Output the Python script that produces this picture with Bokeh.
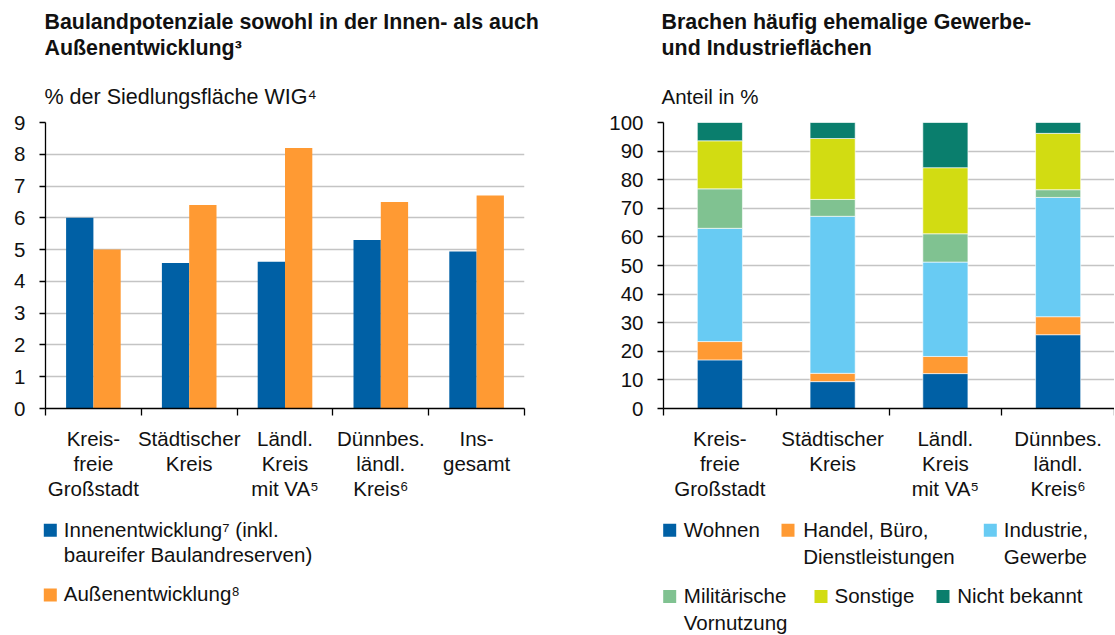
from bokeh.plotting import figure
from bokeh.models import Range1d, FixedTicker, ColumnDataSource
from bokeh.layouts import row, column
from bokeh.embed import file_html
from bokeh.resources import INLINE
from bokeh.core.properties import value

# ---------------- data ----------------
left_categories = ["Kreis-\nfreie\nGroßstadt", "Städtischer\nKreis", "Ländl.\nKreis\nmit VA⁵",
                   "Dünnbes.\nländl.\nKreis⁶", "Ins-\ngesamt"]
innenentwicklung = [6.0, 4.58, 4.62, 5.3, 4.94]
aussenentwicklung = [5.0, 6.4, 8.2, 6.5, 6.7]

right_categories = ["Kreis-\nfreie\nGroßstadt", "Städtischer\nKreis", "Ländl.\nKreis\nmit VA⁵",
                    "Dünnbes.\nländl.\nKreis⁶"]
wohnen = [17.0, 9.4, 12.2, 25.8]
handel = [6.4, 2.9, 6.0, 6.3]
industrie = [39.6, 54.9, 33.0, 41.7]
militaer = [13.8, 5.9, 9.9, 2.7]
sonstige = [16.8, 21.3, 23.1, 19.7]
nicht_bekannt = [6.4, 5.6, 15.8, 3.8]

left_ticks = list(range(0, 10, 1))
right_ticks = list(range(0, 101, 10))

left_title = ["Baulandpotenziale sowohl in der Innen- als auch", "Außenentwicklung³"]
left_subtitle = "% der Siedlungsfläche WIG⁴"
right_title = ["Brachen häufig ehemalige Gewerbe-", "und Industrieflächen"]
right_subtitle = "Anteil in %"
left_legend = [["Innenentwicklung⁷ (inkl.", "baureifer Baulandreserven)"],
               ["Außenentwicklung⁸"]]
right_legend = [["Wohnen"], ["Handel, Büro,", "Dienstleistungen"], ["Industrie,", "Gewerbe"],
                ["Militärische", "Vornutzung"], ["Sonstige"], ["Nicht bekannt"]]

# ---------------- style ----------------
FONT = "Liberation Sans"
FS = "20.5px"
TFS = "21.4px"
SFS = "21.5px"
TXT = "#111111"
BLUE = "#0060a5"
ORANGE = "#ff9a33"
LIGHTBLUE = "#68cbf3"
GREEN = "#80c291"
YELLOW = "#d2dc12"
TEAL = "#0a7e6d"
GRID = "#c4c4c4"

W_LEFT = 590
W_RIGHT = 524
H_TOP = 110      # titles row
H_MID = 400      # charts row
H_BOT = 124      # legends row
FRAME_TOP = 12
FRAME_H = 286
TEXT_DY = -7.5   # correction between wanted baseline and where the text glyph lands


def make_chart(width, n, ymax, ticks, border_left, frame_w, labels):
    p = figure(width=width, height=H_MID, x_range=Range1d(-0.5, n - 0.5), y_range=Range1d(0, ymax),
               output_backend="svg", toolbar_location=None,
               min_border_left=border_left, min_border_right=width - border_left - frame_w,
               min_border_top=FRAME_TOP, min_border_bottom=H_MID - FRAME_TOP - FRAME_H)
    p.outline_line_color = None
    p.xgrid.visible = False
    yt = FixedTicker(ticks=ticks)
    p.ygrid.ticker = yt
    p.ygrid.grid_line_color = GRID
    p.ygrid.grid_line_width = 1.6
    ya = p.yaxis[0]
    ya.ticker = yt
    ya.axis_line_color = "black"
    ya.axis_line_width = 1.3
    ya.major_tick_out = 6
    ya.major_tick_in = 0
    ya.major_tick_line_width = 1.3
    ya.minor_tick_line_color = None
    ya.major_label_standoff = 14
    ya.major_label_text_font = FONT
    ya.major_label_text_font_size = FS
    ya.major_label_text_color = TXT
    xa = p.xaxis[0]
    xa.ticker = FixedTicker(ticks=list(range(n)), minor_ticks=[i - 0.5 for i in range(n + 1)])
    xa.axis_line_color = "black"
    xa.axis_line_width = 1.3
    xa.major_tick_line_color = None
    xa.major_tick_out = 0
    xa.major_tick_in = 0
    xa.minor_tick_out = 7
    xa.minor_tick_in = 0
    xa.minor_tick_line_color = "black"
    xa.minor_tick_line_width = 1.3
    xa.major_label_standoff = 11
    xa.major_label_text_font = FONT
    xa.major_label_text_font_size = FS
    xa.major_label_text_color = TXT
    xa.major_label_text_line_height = 1.09
    xa.major_label_overrides = {i: c for i, c in enumerate(labels)}
    return p


def make_text_fig(width, height):
    # a plain canvas whose data units are pixels, measured from its top-left corner
    p = figure(width=width, height=height, x_range=Range1d(0, width), y_range=Range1d(height, 0),
               output_backend="svg", toolbar_location=None, x_axis_location=None,
               y_axis_location=None, min_border=0)
    p.outline_line_color = None
    p.grid.visible = False
    return p


def put_text(p, xs, ys, texts, size=FS, bold=False):
    p.text(x=xs, y=[y + TEXT_DY for y in ys], text=texts, text_font=value(FONT),
           text_font_size=value(size), text_font_style="bold" if bold else "normal",
           text_color=TXT, text_baseline="alphabetic", text_align="left")


# ---------------- titles row ----------------
t1 = make_text_fig(W_LEFT, H_TOP)
put_text(t1, [44, 44], [29.3, 55], left_title, TFS, True)
put_text(t1, [44], [103.5], [left_subtitle], SFS)

t2 = make_text_fig(W_RIGHT, H_TOP)
put_text(t2, [71, 71], [29.3, 55], right_title, TFS, True)
put_text(t2, [71], [103.5], [right_subtitle])

# ---------------- left chart ----------------
nL = len(left_categories)
p1 = make_chart(W_LEFT, nL, 9, left_ticks, 45, 479, left_categories)
bw = 0.285
src1 = ColumnDataSource(dict(xi=[i - bw / 2 for i in range(nL)], xa=[i + bw / 2 for i in range(nL)],
                             innen=innenentwicklung, aussen=aussenentwicklung))
p1.vbar(x="xi", top="innen", width=bw, fill_color=BLUE, line_color=None, source=src1)
p1.vbar(x="xa", top="aussen", width=bw, fill_color=ORANGE, line_color=None, source=src1)

# ---------------- right chart ----------------
nR = len(right_categories)
p2 = make_chart(W_RIGHT, nR, 100, right_ticks, 73, 451, right_categories)
stack_names = ["wohnen", "handel", "industrie", "militaer", "sonstige", "nicht_bekannt"]
stack_colors = [BLUE, ORANGE, LIGHTBLUE, GREEN, YELLOW, TEAL]
src2 = ColumnDataSource(dict(x=list(range(nR)), wohnen=wohnen, handel=handel, industrie=industrie,
                             militaer=militaer, sonstige=sonstige, nicht_bekannt=nicht_bekannt))
p2.vbar_stack(stack_names, x="x", width=0.4, color=stack_colors, source=src2,
              line_color="white", line_width=0.6)

# ---------------- legends row ----------------
SW = 13
l1 = make_text_fig(W_LEFT, H_BOT)
left_pos = [(43.3, 13.3, 63.3, 26.7), (43.3, 78.0, 63.3, 90.7)]
left_cols = [BLUE, ORANGE]
for (sx, sy, tx, ty), col, lines in zip(left_pos, left_cols, left_legend):
    l1.quad(left=[sx], right=[sx + SW], top=[sy], bottom=[sy + SW], fill_color=col, line_color=None)
    put_text(l1, [tx] * len(lines), [ty + 25.0 * k for k in range(len(lines))], lines)

l2 = make_text_fig(W_RIGHT, H_BOT)
right_pos = [(72.7, 13.3, 93.3, 26.7), (191.0, 13.3, 212.7, 26.7), (393.3, 13.3, 413.3, 26.7),
             (72.7, 79.5, 93.3, 92.7), (224.0, 79.5, 244.0, 92.7), (346.0, 79.5, 366.7, 92.7)]
for (sx, sy, tx, ty), col, lines in zip(right_pos, stack_colors, right_legend):
    l2.quad(left=[sx], right=[sx + SW], top=[sy], bottom=[sy + SW], fill_color=col, line_color=None)
    put_text(l2, [tx] * len(lines), [ty + 26.3 * k for k in range(len(lines))], lines)

layout = column(row(t1, t2), row(p1, p2), row(l1, l2))
open("out.html", "w").write(file_html(layout, INLINE))
